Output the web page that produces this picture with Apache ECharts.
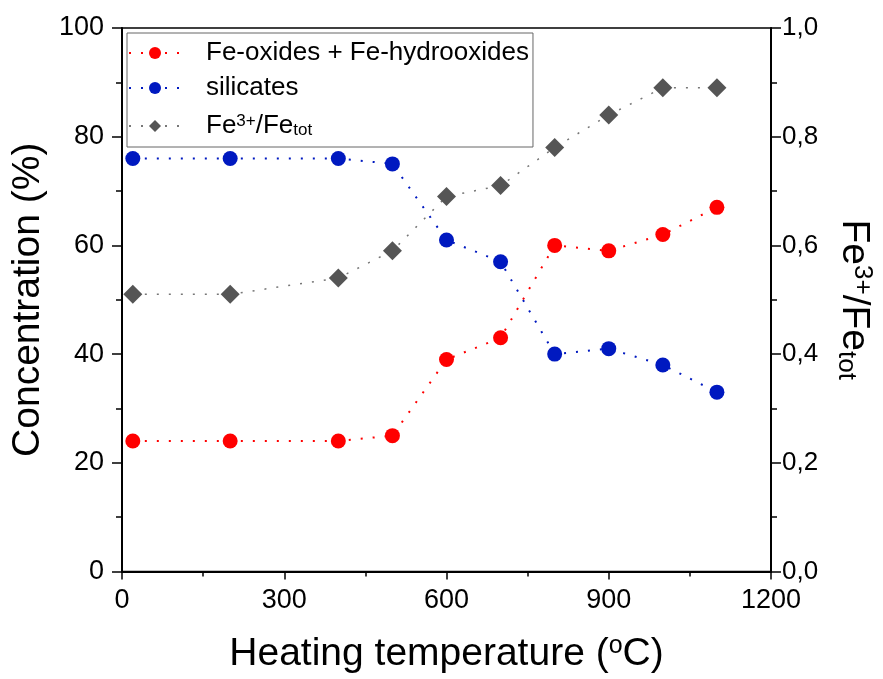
<!DOCTYPE html>
<html>
<head>
<meta charset="utf-8">
<script src="https://cdn.jsdelivr.net/npm/echarts@6/dist/echarts.min.js"></script>
<style>
html,body{margin:0;padding:0;background:#fff;}
#chart{width:883px;height:679px;}
</style>
</head>
<body>
<div id="chart"></div>
<script>
const temperatures = [20, 200, 400, 500, 600, 700, 800, 900, 1000, 1100];
const feOxides = [24, 24, 24, 25, 39, 43, 60, 59, 62, 67];
const silicates = [76, 76, 76, 75, 61, 57, 40, 41, 38, 33];
const feRatio = [0.51, 0.51, 0.54, 0.59, 0.69, 0.71, 0.78, 0.84, 0.89, 0.89];
const seriesNames = ['Fe-oxides + Fe-hydrooxides', 'silicates', 'Fe3+/Fetot'];

const pair = (xs, ys) => xs.map((x, i) => [x, ys[i]]);
const FONT = '"Liberation Sans", Arial, sans-serif';

const chart = echarts.init(document.getElementById('chart'));
const dot = [2, 10];
chart.setOption({
  animation: false,
  backgroundColor: '#fff',
  grid: { left: 122, right: 107, top: 28, bottom: 106, show: true, borderColor: '#000', borderWidth: 1.5, backgroundColor: 'transparent' },
  legend: {
    left: 127, top: 33, orient: 'vertical',
    itemWidth: 52, itemHeight: 15, itemGap: 9,
    padding: [7, 4, 7, 1],
    borderColor: '#666', borderWidth: 1, backgroundColor: '#fff',
    data: seriesNames,
    formatter: function (n) {
      if (n === 'Fe3+/Fetot') return 'Fe{sup|3+}/Fe{sub|tot}';
      return n;
    },
    textStyle: {
      fontFamily: FONT, fontSize: 26, color: '#000', padding: [0, 0, 0, 20], lineHeight: 26,
      rich: {
        sup: { fontFamily: FONT, fontSize: 17, verticalAlign: 'top', lineHeight: 17, padding: [0, 0, 10, 0] },
        sub: { fontFamily: FONT, fontSize: 17, verticalAlign: 'bottom', lineHeight: 17, padding: [12, 0, 0, 0] }
      }
    }
  },
  xAxis: {
    type: 'value', min: 0, max: 1200, interval: 300,
    name: 'Heating temperature ({sup|o}C)', nameLocation: 'middle', nameGap: 62,
    nameTextStyle: { fontFamily: FONT, fontSize: 39, color: '#000',
      rich: { sup: { fontFamily: FONT, fontSize: 25, verticalAlign: 'top', padding: [0, 0, 17, 0] } } },
    axisLine: { show: true, onZero: false, lineStyle: { color: '#000', width: 2 } },
    axisTick: { show: true, inside: false, length: 8, lineStyle: { color: '#000', width: 1.5 } },
    minorTick: { show: true, splitNumber: 2, length: 5, lineStyle: { color: '#000', width: 1.5 } },
    axisLabel: { fontFamily: FONT, fontSize: 27, color: '#000', margin: 16, formatter: v => String(v) },
    splitLine: { show: false }
  },
  yAxis: [
    {
      type: 'value', min: 0, max: 100, interval: 20, position: 'left',
      name: 'Concentration (%)', nameLocation: 'middle', nameGap: 69,
      nameTextStyle: { fontFamily: FONT, fontSize: 39, color: '#000' },
      axisLine: { show: true, onZero: false, lineStyle: { color: '#000', width: 2 } },
      axisTick: { show: true, inside: false, length: 10, lineStyle: { color: '#000', width: 1.5 } },
      minorTick: { show: true, splitNumber: 2, length: 6, lineStyle: { color: '#000', width: 1.5 } },
      axisLabel: { fontFamily: FONT, fontSize: 27, color: '#000', margin: 18 },
      splitLine: { show: false }
    },
    {
      type: 'value', min: 0, max: 1, interval: 0.2, position: 'right',
      name: 'Fe{sup|3+}/Fe{sub|tot}', nameLocation: 'middle', nameGap: 62, nameRotate: -90,
      nameTextStyle: { fontFamily: FONT, fontSize: 39, color: '#000',
        rich: {
          sup: { fontFamily: FONT, fontSize: 26, verticalAlign: 'top', padding: [0, 0, 14, 0] },
          sub: { fontFamily: FONT, fontSize: 26, verticalAlign: 'bottom', padding: [16, 0, 0, 0] }
        } },
      axisLine: { show: true, onZero: false, lineStyle: { color: '#000', width: 2 } },
      axisTick: { show: true, inside: false, length: 10, lineStyle: { color: '#000', width: 1.5 } },
      minorTick: { show: true, splitNumber: 2, length: 6, lineStyle: { color: '#000', width: 1.5 } },
      axisLabel: { fontFamily: FONT, fontSize: 26, color: '#000', margin: 11,
        formatter: v => v.toFixed(1).replace('.', ',') },
      splitLine: { show: false }
    }
  ],
  series: [
    {
      name: seriesNames[2], type: 'line', yAxisIndex: 1, data: pair(temperatures, feRatio),
      symbol: 'diamond', symbolSize: 19,
      itemStyle: { color: '#555555' },
      lineStyle: { color: '#777777', width: 1.5, type: dot }
    },
    {
      name: seriesNames[0], type: 'line', yAxisIndex: 0, data: pair(temperatures, feOxides),
      symbol: 'circle', symbolSize: 15,
      itemStyle: { color: '#ff0000' },
      lineStyle: { color: '#ff0000', width: 2, type: dot }
    },
    {
      name: seriesNames[1], type: 'line', yAxisIndex: 0, data: pair(temperatures, silicates),
      symbol: 'circle', symbolSize: 15,
      itemStyle: { color: '#0019c0' },
      lineStyle: { color: '#0019c0', width: 2, type: dot }
    }
  ]
});
</script>
</body>
</html>
